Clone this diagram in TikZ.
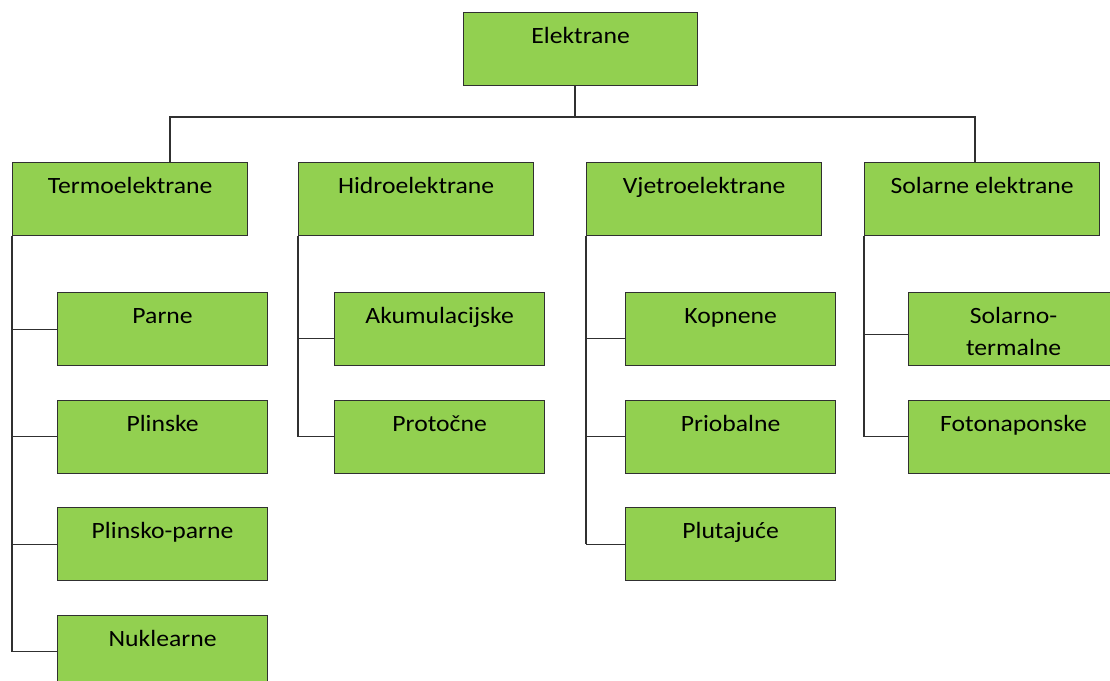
\documentclass[tikz,border=0pt]{standalone}
\usepackage{fontspec}
\setmainfont{Carlito}[FakeStretch=1.1]
\usetikzlibrary{positioning}
\definecolor{boxgreen}{HTML}{92D050}
\definecolor{edgegrey}{HTML}{303030}
\tikzset{
    %Define style for boxes
    topbox/.style={
           rectangle,
           draw=edgegrey, line width=0.9pt,
           fill=boxgreen,
           minimum width=175.5pt,
           minimum height=54.75pt,
           inner ysep=0pt,
           text height=23.25pt,
           text depth=31.5pt,
           font=\fontsize{17.5}{24}\selectfont,
           align=center,
           anchor=north west},
    groupbox/.style={topbox, minimum width=176.25pt},
    typebox/.style={topbox, minimum width=157.5pt},
    twoline/.style={text height=47.25pt, text depth=7.5pt},
    % Define line style
    link/.style={
           draw=edgegrey,
           line width=0.8pt}
}
\begin{document}
\begin{tikzpicture}[x=0.75pt,y=-0.75pt,node distance=25pt]
\useasboundingbox (0,0) rectangle (1110,681);

 %top
\node[topbox](elek) at (463,12){Elektrane};

 %groups
\node[groupbox](termo) at (12,162){Termoelektrane};
\node[groupbox](hidro) at (298,162){Hidroelektrane};
\node[groupbox](vjetro) at (586,162){Vjetroelektrane};
\node[groupbox](solar) at (864,162){Solarne elektrane};

 %types
\node[typebox](parne) at (57,292){Parne};
\node[typebox, below=of parne](plinske){Plinske};
\node[typebox, below=of plinske](plpar){Plinsko-parne};
\node[typebox, below=of plpar](nuk){Nuklearne};

\node[typebox](akum) at (334,292){Akumulacijske};
\node[typebox, below=of akum](prot){Protočne};

\node[typebox](kop) at (625,292){Kopnene};
\node[typebox, below=of kop](prio){Priobalne};
\node[typebox, below=of prio](plut){Plutajuće};

\node[typebox, twoline](soltm) at (908,292){Solarno-\\termalne};
\node[typebox, below=of soltm](foto){Fotonaponske};

 %bar
\coordinate (barL) at (170,117);
\coordinate (barM) at (575,117);
\coordinate (barR) at (975,117);
\draw[link] (elek.south -| barM) -- (barM);
\draw[link] (termo.north -| barL) -- (barL) -- (barR) -- (solar.north -| barR);

 %spines
\draw[link] (termo.south west) -- (termo.south west |- nuk.west);
\foreach \c in {parne,plinske,plpar,nuk}
    \draw[link] (termo.south west |- \c.west) -- (\c.west);

\draw[link] (hidro.south west) -- (hidro.south west |- prot.west);
\draw[link] (hidro.south west |- akum.west) ++(0,9) -- ++(36,0);
\draw[link] (hidro.south west |- prot.west) -- (prot.west);

\draw[link] (vjetro.south west) -- (vjetro.south west |- plut.west);
\draw[link] (vjetro.south west |- kop.west) ++(0,9) -- ++(39,0);
\draw[link] (vjetro.south west |- prio.west) -- (prio.west);
\draw[link] (vjetro.south west |- plut.west) -- (plut.west);

\draw[link] (solar.south west) -- (solar.south west |- foto.west);
\draw[link] (solar.south west |- soltm.west) ++(0,5) -- ++(44,0);
\draw[link] (solar.south west |- foto.west) -- (foto.west);
\end{tikzpicture}
\end{document}
